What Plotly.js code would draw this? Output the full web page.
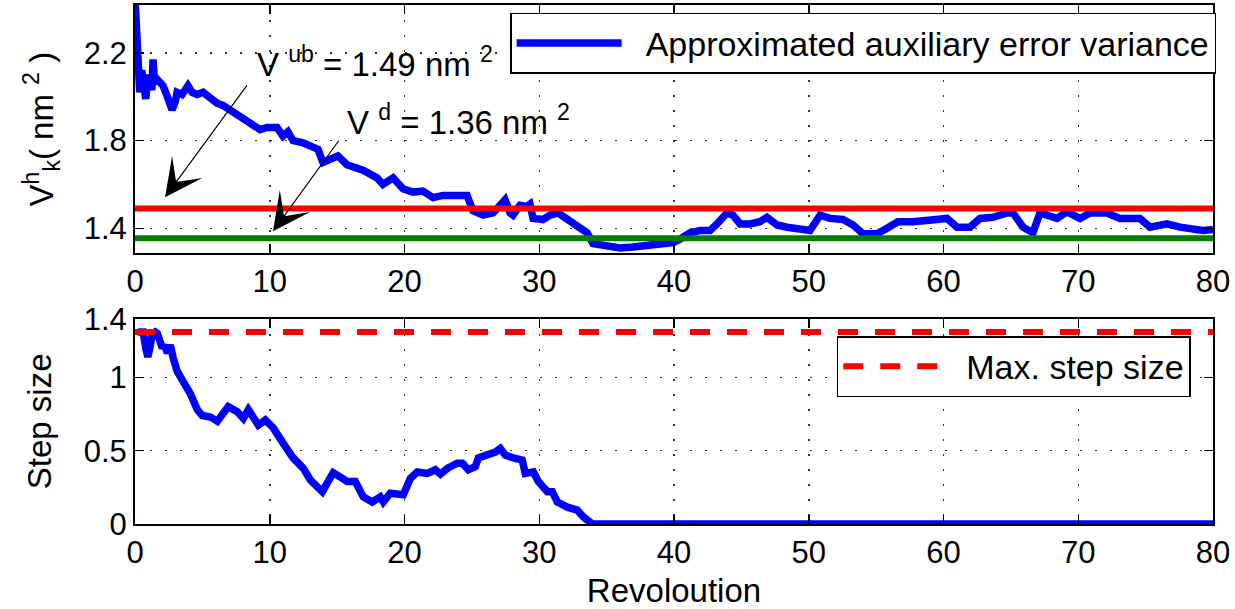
<!DOCTYPE html>
<html>
<head>
<meta charset="utf-8">
<script src="https://cdn.plot.ly/plotly-3.0.1.min.js"></script>
<style>
html,body{margin:0;padding:0;background:#fff;}
#chart{width:1235px;height:609px;}
</style>
</head>
<body>
<div id="chart"></div>
<script>
// ---- data ----
const topRev = [0,0.1,0.2,0.35,0.5,0.65,0.8,0.95,1.1,1.25,1.34,1.45,1.63,1.9,2.08,2.4,2.75,3.0,3.12,3.49,3.93,4.23,4.6,5.05,5.42,6.09,6.53,7.05,7.57,8.01,8.53,9.28,9.8,10.54,10.98,11.35,11.73,12.47,13.21,13.58,13.95,14.47,15.06,15.73,16.92,17.96,18.4,19.15,19.89,20.63,21.37,22.12,22.86,23.6,24.64,25.08,25.83,26.57,27.09,27.46,27.83,28.05,28.57,29.09,29.31,29.54,30.28,30.8,31.39,32.06,32.8,33.54,33.99,35.03,35.99,36.96,37.99,38.96,39.93,40.45,41.19,41.93,42.67,43.19,43.93,44.38,44.9,45.64,46.38,46.9,47.64,48.39,49.35,50.09,50.84,51.58,52.54,53.29,54.03,55.07,55.81,56.62,57.74,59.0,60.26,61.0,61.97,62.71,63.67,64.71,65.16,65.9,66.64,67.16,68.42,69.16,70.13,70.87,72.13,73.1,74.58,75.32,76.59,77.55,78.52,79.26,80];
const topVar = [2.45,2.25,2.05,2.02,2.12,2.0,1.99,2.1,2.07,2.03,2.17,2.06,2.08,2.06,2.05,2.0,1.94,1.98,2.02,2.01,2.05,2.02,2.01,2.02,2.0,1.97,1.96,1.94,1.91,1.90,1.88,1.85,1.86,1.86,1.82,1.84,1.80,1.79,1.77,1.76,1.70,1.71,1.73,1.69,1.665,1.63,1.60,1.63,1.58,1.565,1.57,1.54,1.55,1.55,1.55,1.48,1.46,1.47,1.50,1.53,1.47,1.46,1.505,1.50,1.51,1.445,1.44,1.46,1.47,1.44,1.415,1.38,1.33,1.32,1.31,1.315,1.32,1.33,1.335,1.35,1.38,1.39,1.39,1.42,1.47,1.46,1.42,1.42,1.43,1.45,1.415,1.405,1.40,1.39,1.46,1.445,1.44,1.415,1.375,1.375,1.40,1.43,1.43,1.44,1.445,1.405,1.405,1.445,1.45,1.47,1.47,1.405,1.38,1.47,1.445,1.475,1.445,1.47,1.47,1.445,1.445,1.405,1.42,1.405,1.40,1.39,1.395];

const botRev = [0.2,0.6,0.8,0.95,1.1,1.28,1.5,1.65,2.03,2.2,2.4,2.62,2.84,3.14,3.58,4.1,4.62,4.99,5.59,6.11,6.55,6.92,7.59,8.04,8.41,9.15,9.67,10.26,11.0,11.74,12.49,13.01,13.9,14.71,15.75,16.35,16.94,17.61,18.2,18.43,18.94,19.91,20.43,20.95,21.69,22.29,22.66,23.18,23.92,24.29,24.74,25.25,25.48,26.0,26.37,26.74,27.11,27.48,28.07,28.74,28.96,29.56,29.93,30.6,30.97,31.34,32.08,32.82,33.26,33.93,80];
const botStep = [1.31,1.31,1.2,1.14,1.2,1.30,1.31,1.30,1.20,1.22,1.165,1.22,1.13,1.04,0.97,0.89,0.78,0.74,0.73,0.70,0.755,0.80,0.765,0.72,0.78,0.675,0.71,0.655,0.55,0.45,0.38,0.30,0.22,0.35,0.29,0.29,0.185,0.15,0.185,0.15,0.21,0.20,0.31,0.355,0.345,0.37,0.34,0.38,0.415,0.415,0.37,0.39,0.45,0.465,0.47,0.49,0.515,0.47,0.45,0.435,0.345,0.355,0.29,0.22,0.22,0.15,0.115,0.095,0.05,0.0,0.0];

const lineRev = [0, 80];
const ubValue = 1.49;     // V^ub
const dValue = 1.355;     // V^d (drawn level)
const maxStep = 1.31;

const topTicks = [1.4, 1.8, 2.2];
const botTicks = [0, 0.5, 1, 1.4];
const xTicks = [0, 10, 20, 30, 40, 50, 60, 70, 80];

const legendTop = 'Approximated auxiliary error variance';
const legendBot = 'Max. step size';
const noteUb = 'V <sup>ub</sup> = 1.49 nm <sup>2</sup>';
const noteD = 'V <sup>d</sup> = 1.36 nm <sup>2</sup>';

// ---- chart ----
const FONT = 'Liberation Sans, Arial, Helvetica, sans-serif';
const BLUE = '#0000ff', RED = '#ff0000', GREEN = '#008000';

const traces = [
  {x: topRev, y: topVar, xaxis: 'x', yaxis: 'y', mode: 'lines', name: legendTop,
   line: {color: BLUE, width: 7.5}, legend: 'legend'},
  {x: lineRev, y: [ubValue, ubValue], xaxis: 'x', yaxis: 'y', mode: 'lines',
   line: {color: RED, width: 6}, showlegend: false},
  {x: lineRev, y: [dValue, dValue], xaxis: 'x', yaxis: 'y', mode: 'lines',
   line: {color: GREEN, width: 6}, showlegend: false},
  {x: botRev, y: botStep, xaxis: 'x2', yaxis: 'y2', mode: 'lines',
   line: {color: BLUE, width: 7.5}, showlegend: false},
  {x: lineRev, y: [maxStep, maxStep], xaxis: 'x2', yaxis: 'y2', mode: 'lines', name: legendBot,
   line: {color: RED, width: 6, dash: '20px,17px'}, legend: 'legend2'}
];

const axisCommon = {
  showline: true, linecolor: '#000', linewidth: 2, mirror: 'ticks',
  ticks: 'inside', ticklen: 9, tickwidth: 1.5, tickcolor: '#000',
  showgrid: true, gridcolor: '#333', gridwidth: 1.5, griddash: '2px,13px',
  zeroline: false, tickfont: {family: FONT, size: 31, color: '#000'}
};

const layout = {
  width: 1235, height: 609,
  margin: {l: 135, r: 22, t: 5, b: 85},
  paper_bgcolor: '#fff', plot_bgcolor: '#fff',
  font: {family: FONT, color: '#000'},
  showlegend: true,
  xaxis: Object.assign({}, axisCommon, {anchor: 'y', domain: [0, 1], range: [0, 80],
    tickmode: 'array', tickvals: xTicks}),
  yaxis: Object.assign({}, axisCommon, {anchor: 'x', domain: [0.5216, 1], range: [1.286, 2.418],
    tickmode: 'array', tickvals: topTicks, ticktext: topTicks.map(String),
    title: {text: 'V<sup>h</sup><sub>k</sub>( nm <sup>2</sup> )', font: {family: FONT, size: 33}, standoff: 20}}),
  xaxis2: Object.assign({}, axisCommon, {anchor: 'y2', domain: [0, 1], range: [0, 80],
    tickmode: 'array', tickvals: xTicks,
    title: {text: 'Revoloution', font: {family: FONT, size: 33}, standoff: 12}}),
  yaxis2: Object.assign({}, axisCommon, {anchor: 'x2', domain: [0, 0.3956], range: [0, 1.4],
    tickmode: 'array', tickvals: botTicks, ticktext: ['0', '0.5', '1', '1.4'],
    title: {text: 'Step size', font: {family: FONT, size: 33}, standoff: 22}}),
  legend: {x: 0.348, y: 0.985, xanchor: 'left', yanchor: 'top', bgcolor: '#fff',
    bordercolor: '#000', borderwidth: 1.5, font: {family: FONT, size: 34, color: '#000'},
    itemwidth: 124},
  legend2: {x: 0.651, y: 0.362, xanchor: 'left', yanchor: 'top', bgcolor: '#fff',
    bordercolor: '#000', borderwidth: 1.5, font: {family: FONT, size: 34, color: '#000'},
    itemwidth: 118},
  annotations: [
    {xref: 'x', yref: 'y', x: 8.9, y: 2.158, xanchor: 'left', yanchor: 'middle',
     text: noteUb, showarrow: false, font: {family: FONT, size: 33, color: '#000'}},
    {xref: 'x', yref: 'y', x: 15.58, y: 1.893, xanchor: 'left', yanchor: 'middle',
     text: noteD, showarrow: false, font: {family: FONT, size: 33, color: '#000'}},
    {xref: 'x', yref: 'y', x: 2.23, y: 1.542, axref: 'x', ayref: 'y', ax: 8.39, ay: 2.058,
     text: '', showarrow: true, arrowhead: 3, arrowsize: 5.2, arrowwidth: 1.2, arrowcolor: '#000', standoff: 0},
    {xref: 'x', yref: 'y', x: 10.24, y: 1.386, axref: 'x', ayref: 'y', ax: 15.2, ay: 1.806,
     text: '', showarrow: true, arrowhead: 3, arrowsize: 5.2, arrowwidth: 1.2, arrowcolor: '#000', standoff: 0}
  ]
};

Plotly.newPlot('chart', traces, layout, {staticPlot: true, displayModeBar: false}).then(function () {
  document.querySelectorAll('.legendlines path').forEach(function (p) {
    p.setAttribute('d', 'M5,0h105');
  });
});
</script>
</body>
</html>
